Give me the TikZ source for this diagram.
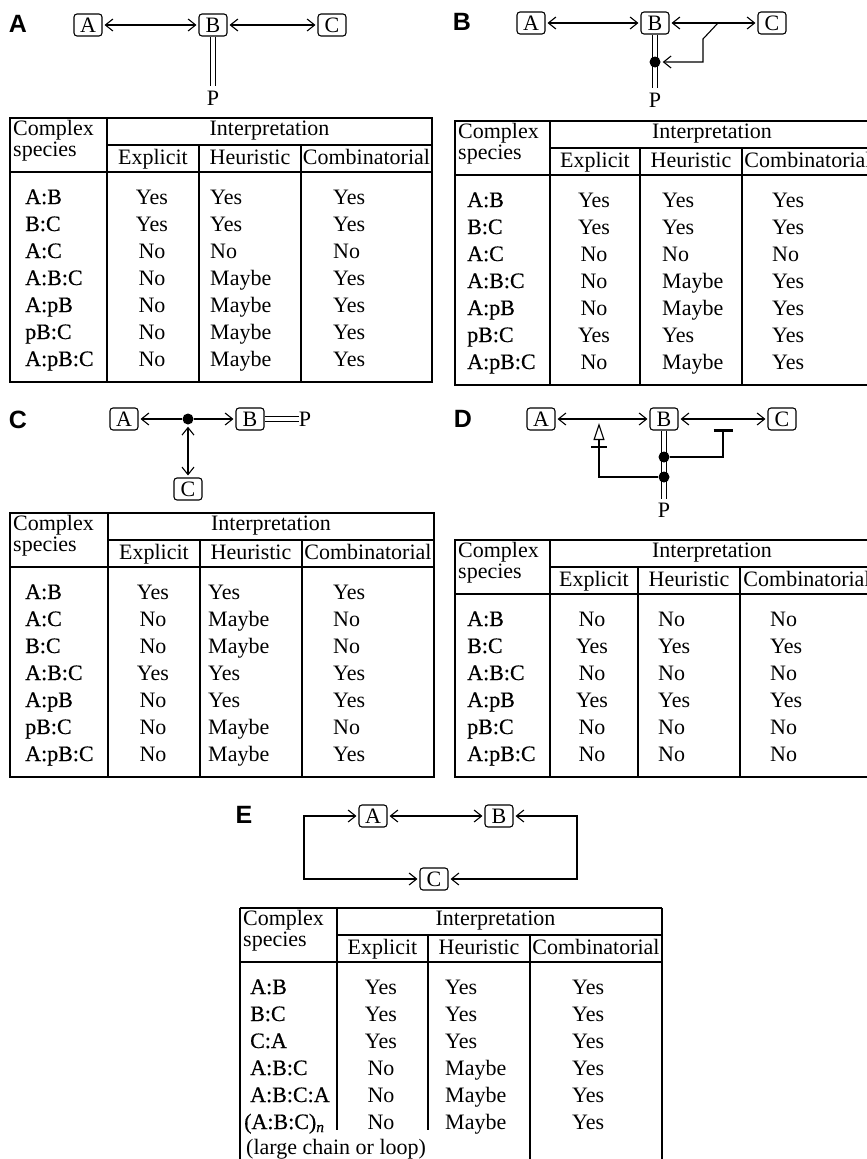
\documentclass[tikz,border=0pt]{standalone}
\usepackage{fontspec}
\setmainfont{Liberation Serif}
\newfontfamily\lblfont{Liberation Sans}
\newfontfamily\rowfont[FakeBold=0.5]{Liberation Serif}
\usetikzlibrary{arrows.meta}
\tikzset{
  mol/.style={draw, rounded corners=3pt, line width=1.1pt, minimum width=28pt, minimum height=22pt, inner sep=1.5pt, font=\fontsize{22}{22}\selectfont},
  plabel/.style={inner sep=0pt, font=\lblfont\bfseries\fontsize{25}{25}\selectfont},
  ptxt/.style={inner sep=0pt, font=\fontsize{22}{22}\selectfont},
  rel/.style={line width=1.1pt, {Straight Barb[length=7.5pt,width=12pt]}-{Straight Barb[length=7.5pt,width=12pt]}, shorten <=2pt, shorten >=2pt},
  act/.style={line width=1.1pt, -{Straight Barb[length=7.5pt,width=12pt]}},
  plain/.style={line width=1.1pt},
  dbl/.style={double, double distance=4.5pt, line width=1.2pt},
  blob/.style={circle, fill, minimum size=11pt, inner sep=0pt},
  outer/.style={line width=1.8pt},
  inner/.style={line width=1.3pt},
  cell/.style={inner sep=0pt, text height=15pt, text depth=5pt, font=\fontsize{22}{26}\selectfont},
  rowl/.style={cell, font=\rowfont\fontsize{22}{26}\selectfont},
}
% #1 name #2 x0 #3 x1 #4 x2 #5 x3 #6 x4 #7 top #8 bottom
\newcommand\tblframe[8]{%
  \draw[outer] (#2,#7) rectangle (#6,#8);
  \draw[inner] (#3,#7) -- (#3,#8);
  \draw[inner] (#3,#7+27) -- (#6,#7+27);
  \draw[outer] (#2,#7+54) -- (#6,#7+54);
  \draw[inner] (#4,#7+27) -- (#4,#8);
  \draw[inner] (#5,#7+27) -- (#5,#8);
  \node[cell, anchor=west] (#1-cx) at (#2+3,#7+12) {Complex};
  \node[cell, anchor=west] (#1-sp) at (#2+3,#7+33) {species};
  \node[cell] (#1-in) at ({(#3+#6)/2},#7+12) {Interpretation};
  \node[cell] (#1-ex) at ({(#3+#4)/2},#7+41) {Explicit};
  \node[cell] (#1-he) at ({(#4+#5)/2},#7+41) {Heuristic};
  \node[cell] (#1-co) at ({(#5+#6)/2},#7+41) {Combinatorial};
}
% #1 name #2 xlab #3 xexp #4 xheu #5 xcom #6 first y #7 list
\newcommand\tblrows[7]{%
  \foreach \xs/\xe/\xh/\xc [count=\i from 0] in {#7} {
    \node[rowl, anchor=west] (#1-s\i) at (#2,#6+27*\i) {\xs};
    \node[cell] (#1-e\i) at (#3,#6+27*\i) {\xe};
    \node[cell, anchor=west] (#1-h\i) at (#4,#6+27*\i) {\xh};
    \node[cell, anchor=west] (#1-c\i) at (#5,#6+27*\i) {\xc};
  }%
}
\begin{document}
\begin{tikzpicture}[x=1pt,y=-1pt]
\useasboundingbox (0,0) rectangle (867,1159);
\fill[white] (0,0) rectangle (867,1159);

% ---------- Panel A
\node[plabel] (LA) at (18,24) {A};
\node[mol] (A1) at (88,25) {A};
\node[mol] (B1) at (213,25) {B};
\node[mol] (C1) at (332,25) {C};
\node[ptxt] (P1) at (213,98) {P};
\draw[rel] (A1) -- (B1);
\draw[rel] (B1) -- (C1);
\draw[dbl] (B1.south) -- ([yshift=5pt]P1.north);

% ---------- Panel B
\node[plabel] (LB) at (462,22) {B};
\node[mol] (A2) at (531,23) {A};
\node[mol] (B2) at (655,23) {B};
\node[mol] (C2) at (772,23) {C};
\node[ptxt] (P2) at (655,100) {P};
\draw[rel] (A2) -- (B2);
\draw[rel] (B2) -- (C2);
\draw[dbl] (B2.south) -- ([yshift=5pt]P2.north);
\node[blob] (D2) at (655,62) {};
\coordinate (K1) at (718,23);
\coordinate (K2) at (703,39);
\coordinate (K3) at (703,62);
\draw[act, shorten >=2pt] (K1) -- (K2) -- (K3) -- (D2);

% ---------- Panel C
\node[plabel] (LC) at (18,420) {C};
\node[mol] (A3) at (124,419) {A};
\node[blob] (D3) at (188,419) {};
\node[mol] (B3) at (250,419) {B};
\node[ptxt] (P3) at (305,419) {P};
\node[mol] (C3) at (188,489) {C};
\draw[act, shorten >=2pt] (D3) -- (A3);
\draw[act, shorten >=2pt] (D3) -- (B3);
\draw[rel] (D3) -- (C3);
\draw[dbl] (B3.east) -- (P3.west);

% ---------- Panel D
\node[plabel] (LD) at (463,419) {D};
\node[mol] (A4) at (541,419) {A};
\node[mol] (B4) at (664,419) {B};
\node[mol] (C4) at (782,419) {C};
\node[ptxt] (P4) at (664,510) {P};
\draw[rel] (A4) -- (B4);
\draw[rel] (B4) -- (C4);
\draw[dbl] (B4.south) -- ([yshift=4pt]P4.north);
\node[blob] (E4a) at (664,457) {};
\node[blob] (E4b) at (664,477) {};
\coordinate (I1) at (723,457);
\coordinate (I2) at (723,429);
\draw[plain, -{Bar[width=19pt,line width=2.8pt]}] (E4a) -- (I1) -- (I2);
\coordinate (S1) at (599,477);
\coordinate (S2) at (599,423);
\draw[plain, -{Triangle[open, length=17pt, width=11pt]}] (E4b) -- (S1) -- (S2);
\coordinate (T1) at (591,447);
\coordinate (T2) at (607,447);
\draw[plain] (T1) -- (T2);

% ---------- Panel E
\node[plabel] (LE) at (244,815) {E};
\node[mol] (A5) at (373,816) {A};
\node[mol] (B5) at (499,816) {B};
\node[mol] (C5) at (434,879) {C};
\coordinate (L1) at (304,816);
\coordinate (L2) at (304,879);
\coordinate (R1) at (577,816);
\coordinate (R2) at (577,879);
\draw[rel] (A5) -- (B5);
\draw[rel] (A5) -- (L1) -- (L2) -- (C5);
\draw[rel] (B5) -- (R1) -- (R2) -- (C5);

% ---------- Table A
\tblframe{tA}{10}{107}{199}{301}{432}{118}{382}
\tblrows{tA}{25}{152}{210}{333}{199}{A:B/Yes/Yes/Yes, B:C/Yes/Yes/Yes, A:C/No/No/No, A:B:C/No/Maybe/Yes, A:pB/No/Maybe/Yes, pB:C/No/Maybe/Yes, A:pB:C/No/Maybe/Yes}

% ---------- Table B
\tblframe{tB}{455}{550}{640}{742}{874}{121}{385}
\tblrows{tB}{467}{594}{662}{772}{202}{A:B/Yes/Yes/Yes, B:C/Yes/Yes/Yes, A:C/No/No/No, A:B:C/No/Maybe/Yes, A:pB/No/Maybe/Yes, pB:C/Yes/Yes/Yes, A:pB:C/No/Maybe/Yes}

% ---------- Table C
\tblframe{tC}{10}{108}{200}{302}{434}{513}{777}
\tblrows{tC}{25}{153}{208}{333}{594}{A:B/Yes/Yes/Yes, A:C/No/Maybe/No, B:C/No/Maybe/No, A:B:C/Yes/Yes/Yes, A:pB/No/Yes/Yes, pB:C/No/Maybe/No, A:pB:C/No/Maybe/Yes}

% ---------- Table D
\tblframe{tD}{455}{550}{638}{740}{874}{540}{777}
\tblrows{tD}{467}{592}{658}{770}{621}{A:B/No/No/No, B:C/Yes/Yes/Yes, A:B:C/No/No/No, A:pB/Yes/Yes/Yes, pB:C/No/No/No, A:pB:C/No/No/No}

% ---------- Table E
\draw[outer] (240,908) -- (662,908);
\draw[outer] (240,908) -- (240,1172);
\draw[outer] (662,908) -- (662,1172);
\draw[inner] (337,908) -- (337,1130);
\draw[inner] (337,935) -- (662,935);
\draw[outer] (240,962) -- (662,962);
\draw[inner] (428,935) -- (428,1130);
\draw[inner] (530,935) -- (530,1172);
\node[cell, anchor=west] (tE-cx) at (243,920) {Complex};
\node[cell, anchor=west] (tE-sp) at (243,941) {species};
\node[cell] (tE-in) at (495.5,920) {Interpretation};
\node[cell] (tE-ex) at (382.5,949) {Explicit};
\node[cell] (tE-he) at (479,949) {Heuristic};
\node[cell] (tE-co) at (596,949) {Combinatorial};
\tblrows{tE}{250}{381}{445}{572}{989}{A:B/Yes/Yes/Yes, B:C/Yes/Yes/Yes, C:A/Yes/Yes/Yes, A:B:C/No/Maybe/Yes, A:B:C:A/No/Maybe/Yes}
\node[rowl, anchor=west] (tE-s5) at (244,1124) {(A:B:C)\textsubscript{\textit{n}}};
\node[cell] (tE-e5) at (381,1124) {No};
\node[cell, anchor=west] (tE-h5) at (445,1124) {Maybe};
\node[cell, anchor=west] (tE-c5) at (572,1124) {Yes};
\node[cell, anchor=west] (tE-lc) at (246,1149) {(large chain or loop)};
\end{tikzpicture}
\end{document}
